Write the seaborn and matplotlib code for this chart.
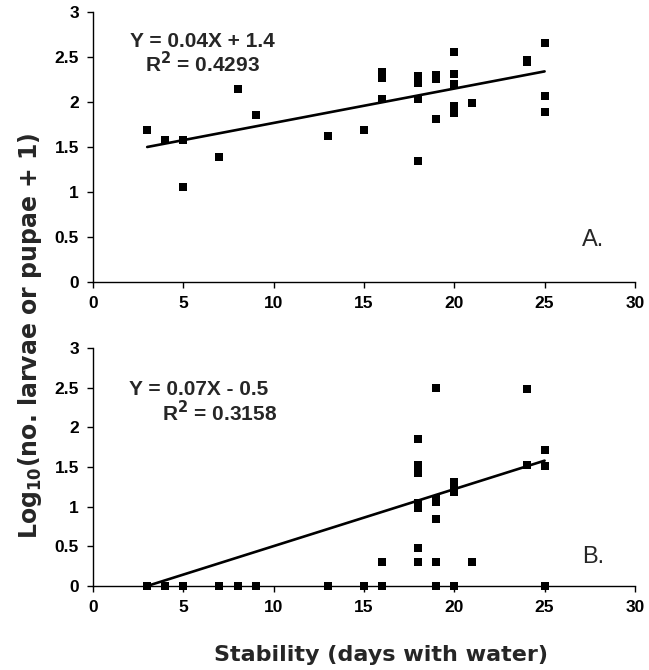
import matplotlib
matplotlib.use("Agg")
import matplotlib.pyplot as plt
import seaborn as sns
import pandas as pd

# panel A: larvae/pupae vs stability
days_a = [3, 4, 5, 5, 7, 8, 9, 13, 15, 16, 16, 16, 18, 18, 18, 18, 19, 19, 19,
          20, 20, 20, 20, 20, 21, 24, 24, 25, 25, 25]
log_a = [1.69, 1.58, 1.58, 1.05, 1.39, 2.14, 1.86, 1.62, 1.69, 2.33, 2.27, 2.03,
         2.29, 2.21, 2.03, 1.34, 2.30, 2.25, 1.81, 2.55, 2.31, 2.20, 1.95, 1.88,
         1.99, 2.47, 2.44, 2.65, 2.07, 1.89]

# panel B
days_b = [3, 4, 5, 7, 8, 9, 13, 15, 16, 19, 20, 25,
          16, 18, 19, 21,
          18, 18, 18, 18, 18, 18,
          19, 19, 19, 19,
          20, 20, 20,
          24, 24, 25, 25]
log_b = [0, 0, 0, 0, 0, 0, 0, 0, 0, 0, 0, 0,
         0.30, 0.30, 0.30, 0.30,
         0.48, 0.98, 1.05, 1.43, 1.52, 1.85,
         0.85, 1.06, 1.10, 2.50,
         1.19, 1.25, 1.31,
         1.53, 2.48, 1.51, 1.72]

# trend lines as drawn in the figure (end points)
trend_x = [3, 25]
trend_a = [1.50, 2.34]
trend_b = [0.0, 1.58]

eq_a = ["Y = 0.04X + 1.4", "R$^{2}$ = 0.4293"]
eq_b = ["Y = 0.07X - 0.5", "R$^{2}$ = 0.3158"]
panel_tags = ["A.", "B."]

yticks = [0, 0.5, 1, 1.5, 2, 2.5, 3]
ytick_labels = ["0", "0.5", "1", "1.5", "2", "2.5", "3"]
xticks = [0, 5, 10, 15, 20, 25, 30]

sns.set_style("ticks")
plt.rcParams["font.family"] = ["Liberation Sans", "DejaVu Sans"]
plt.rcParams["mathtext.fontset"] = "dejavusans"
plt.rcParams["mathtext.default"] = "bf"

df_a = pd.DataFrame({"days": days_a, "log": log_a})
df_b = pd.DataFrame({"days": days_b, "log": log_b})

fig = plt.figure(figsize=(6.49, 6.70), dpi=100)
ax_a = fig.add_axes([0.1433, 0.5791, 0.835, 0.403])
ax_b = fig.add_axes([0.1433, 0.1254, 0.835, 0.3552])

panels = [
    (ax_a, df_a, trend_a, eq_a, panel_tags[0], [(2.05, 2.67), (2.9, 2.43)], (27.7, 0.47)),
    (ax_b, df_b, trend_b, eq_b, panel_tags[1], [(2.0, 2.48), (3.8, 2.19)], (27.7, 0.36)),
]

for ax, df, trend, eq, tag, eq_pos, tag_pos in panels:
    sns.lineplot(x=trend_x, y=trend, ax=ax, color="black", lw=1.9)
    sns.scatterplot(data=df, x="days", y="log", ax=ax, marker="s", s=34,
                    color="black", linewidth=0, clip_on=False, zorder=3)
    ax.set_xlim(0, 30)
    ax.set_ylim(0, 3)
    ax.set_xticks(xticks)
    ax.set_yticks(yticks)
    ax.set_yticklabels(ytick_labels)
    ax.set_xlabel("")
    ax.set_ylabel("")
    sns.despine(ax=ax)
    for s in ["left", "bottom"]:
        ax.spines[s].set_linewidth(1.0)
        ax.spines[s].set_color("black")
    ax.tick_params(direction="out", length=4, width=1, colors="black",
                   labelsize=12.5, pad=6)
    for lab in ax.get_xticklabels() + ax.get_yticklabels():
        lab.set_fontweight("bold")
    for txt, (tx, ty) in zip(eq, eq_pos):
        ax.text(tx, ty, txt, fontsize=15, fontweight="bold", ha="left", va="center")
    ax.text(tag_pos[0], tag_pos[1], tag, fontsize=17, ha="center", va="center")

fig.text(381 / 649, 0.0134, "Stability (days with water)", fontsize=16,
         fontweight="bold", family="DejaVu Sans", ha="center", va="baseline")
fig.text(30 / 649, 0.4985, "Log$_{10}$(no. larvae or pupae + 1)", fontsize=17,
         fontweight="bold", family="DejaVu Sans", rotation=90, ha="center", va="center")

fig.savefig("out.png", dpi=100)
